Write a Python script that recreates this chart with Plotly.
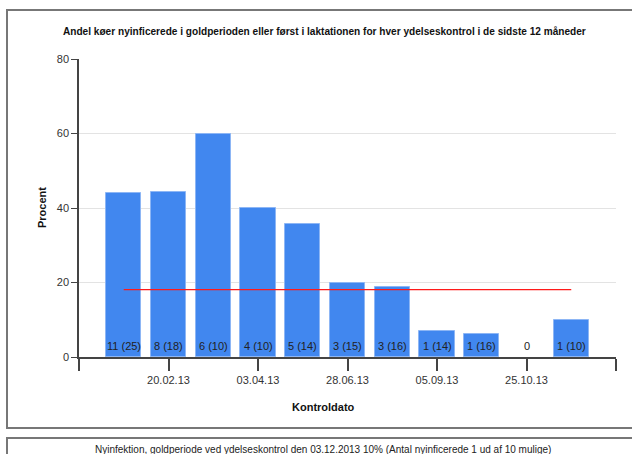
import plotly.graph_objects as go

# Data
kontrol_labels = ["20.02.13", "03.04.13", "28.06.13", "05.09.13", "25.10.13", ""]
kontrol_tickpos = [1, 3, 5, 7, 9, 11]
bar_index = list(range(11))
procent = [44.0, 44.4, 60.0, 40.0, 35.7, 20.0, 18.8, 7.1, 6.3, 0.0, 10.0]
bar_text = ["11 (25)", "8 (18)", "6 (10)", "4 (10)", "5 (14)", "3 (15)",
            "3 (16)", "1 (14)", "1 (16)", "0", "1 (10)"]
gennemsnit = 18.1

title = "Andel køer nyinficerede i goldperioden eller først i laktationen for hver ydelseskontrol i de sidste 12 måneder"
footer = "Nyinfektion, goldperiode ved ydelseskontrol den 03.12.2013 10% (Antal nyinficerede 1 ud af 10 mulige)"

W, H = 632, 454
L, R, T, B = 79, 16, 59, 97
FONT = "Arial, Liberation Sans, sans-serif"

fig = go.Figure()
fig.add_trace(go.Bar(
    x=bar_index, y=procent, width=0.79,
    marker=dict(color="#4187EF",
                line=dict(color="#8DB6F5", width=[1 if v > 0 else 0 for v in procent])),
    hoverinfo="skip", showlegend=False,
))
fig.add_trace(go.Scatter(
    x=[bar_index[0], bar_index[-1]], y=[gennemsnit, gennemsnit],
    mode="lines", line=dict(color="#FF1A1A", width=1.2),
    hoverinfo="skip", showlegend=False,
))

annotations = []
for xi, t in zip(bar_index, bar_text):
    annotations.append(dict(x=xi, y=0, xref="x", yref="y", text=t, showarrow=False,
                            yshift=11, font=dict(size=11, color="#222222", family=FONT)))

def px_x(p):
    return (p - L) / (W - L - R)

def px_y(p):
    return (H - B - p) / (H - T - B)

def label(xp, yp, text, size, color, angle=0):
    return dict(x=px_x(xp), y=px_y(yp), xref="paper", yref="paper", text=text,
                xanchor="center", yanchor="middle", textangle=angle, showarrow=False,
                font=dict(size=size, color=color, family=FONT))

annotations += [
    label(324, 32, "<b>" + title + "</b>", 10.1, "#111111"),
    label(42, 208, "<b>Procent</b>", 11, "#111111", -90),
    label(323, 407, "<b>Kontroldato</b>", 11, "#111111"),
    label(323, 449, footer, 10, "#222222"),
]

shapes = [
    dict(type="rect", xref="paper", yref="paper", x0=px_x(7), x1=px_x(640), y0=px_y(10), y1=px_y(428),
         line=dict(color="#777777", width=2), layer="below"),
    dict(type="rect", xref="paper", yref="paper", x0=px_x(7), x1=px_x(640), y0=px_y(438), y1=px_y(470),
         line=dict(color="#777777", width=2), layer="below"),
]

fig.update_layout(
    width=W, height=H,
    margin=dict(l=L, r=R, t=T, b=B),
    paper_bgcolor="white", plot_bgcolor="white",
    font=dict(family=FONT, size=11, color="#333333"),
    annotations=annotations, shapes=shapes,
    bargap=0,
)
fig.update_xaxes(
    range=[-1, 11], tickmode="array", tickvals=[-1] + kontrol_tickpos, ticktext=[""] + kontrol_labels,
    ticks="outside", ticklen=12, tickcolor="#444444", tickwidth=1.5,
    showline=True, linecolor="#444444", linewidth=1.5,
    showgrid=False, zeroline=False, tickfont=dict(size=11, color="#333333"),
    fixedrange=True,
)
fig.update_yaxes(
    range=[0, 80], tickvals=[0, 20, 40, 60, 80],
    ticks="outside", ticklen=6, tickcolor="#444444", tickwidth=1,
    showline=True, linecolor="#444444", linewidth=1.5,
    showgrid=True, gridcolor="#E3E3E3", gridwidth=1, zeroline=False,
    tickfont=dict(size=11, color="#333333"), fixedrange=True,
)

fig.write_html("out.html", config={"displayModeBar": False},
               post_script="document.body.style.margin='0px';document.body.style.overflow='hidden';")
